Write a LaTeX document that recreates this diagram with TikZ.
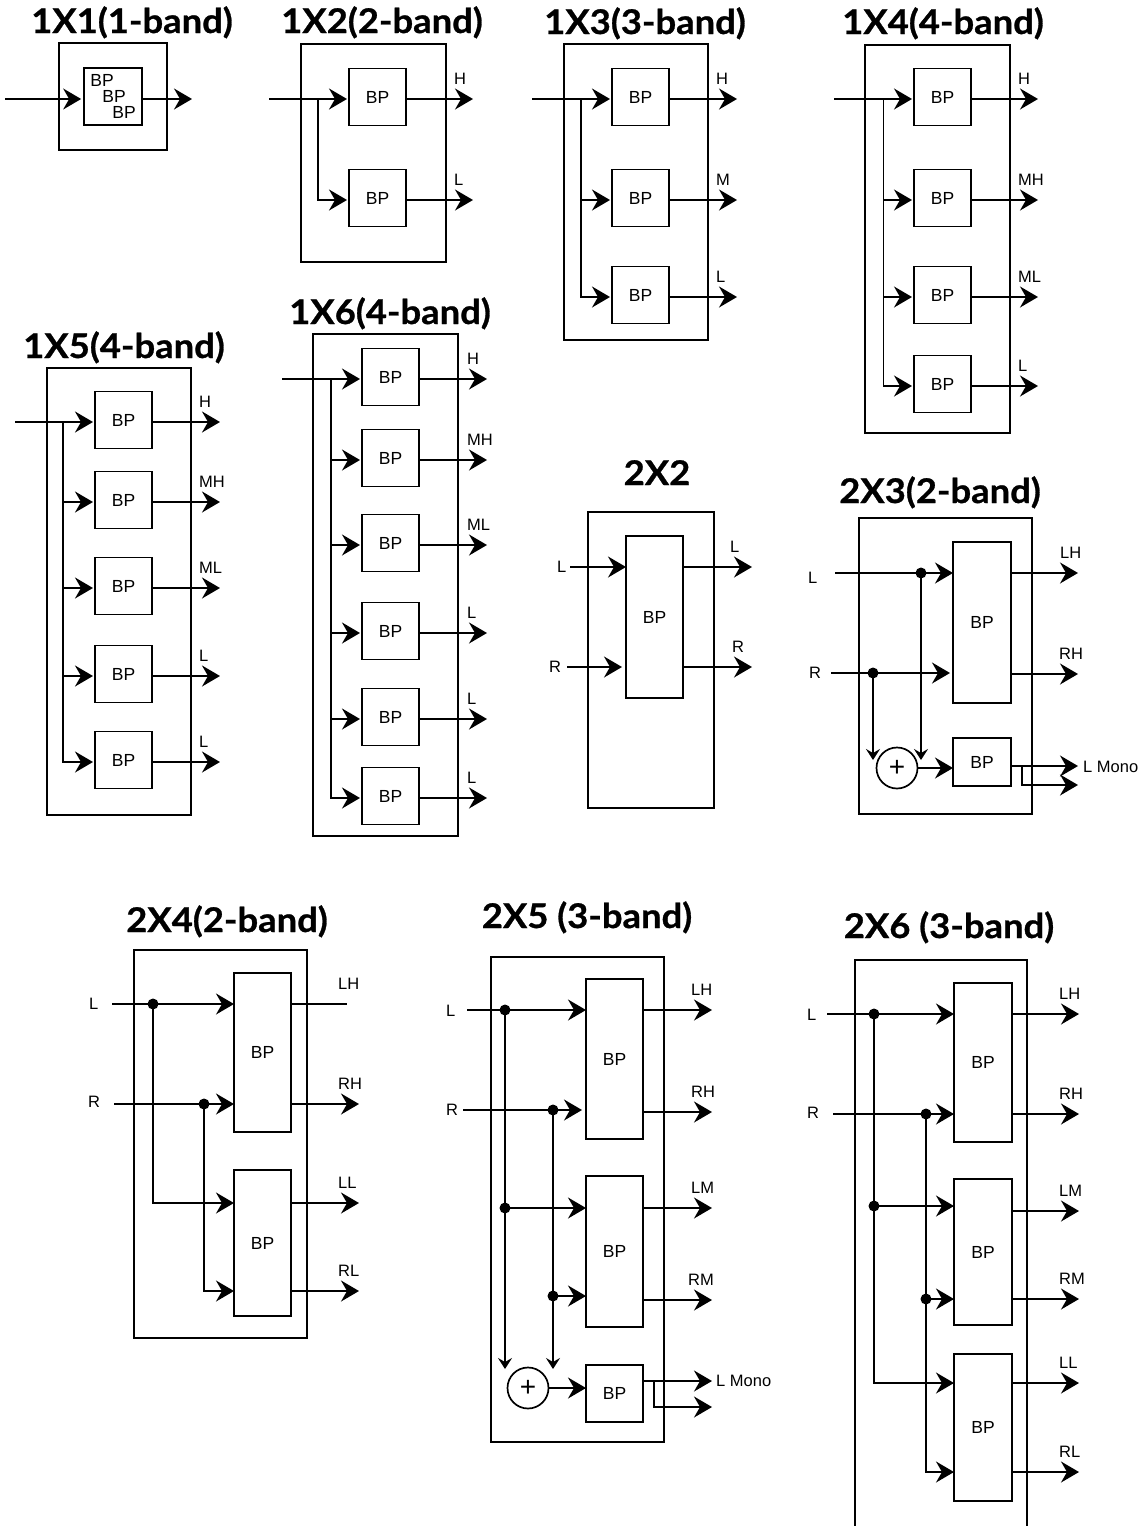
\documentclass[tikz,border=0pt]{standalone}
\usepackage{fontspec}
\setmainfont{Liberation Sans}
\newfontfamily\ttlfont{Lato}[FakeStretch=1.07,BoldFeatures={FakeBold=0.8}]
\usetikzlibrary{arrows.meta,calc}
\newcommand\lblfont{\fontsize{16.5}{19}\selectfont}
\newcommand\bpfont{\fontsize{17.5}{20}\selectfont}
\tikzset{
  ln/.style={line width=1.7pt},
  arr/.style={ln,-{Stealth[length=18pt,width=21pt,inset=6pt]}},
  sarr/.style={ln,-{Stealth[length=11pt,width=14pt,inset=4pt]}},
  outerbox/.style={draw,ln,inner sep=0pt,outer sep=0pt},
  bp/.style={draw,ln,inner sep=0pt,outer sep=0pt,font=\bpfont},
  lab/.style={inner sep=0pt,font=\lblfont},
  ttl/.style={inner sep=0pt,anchor=base,font=\ttlfont\bfseries\fontsize{34}{36}\selectfont},
  jdot/.style={circle,fill=black,inner sep=0pt,minimum size=11pt},
  plusnode/.style={circle,draw,ln,inner sep=0pt,minimum size=41pt,font=\fontsize{28}{28}\selectfont},
}
\newcommand\obox[5]{\node[outerbox, minimum width={(#4)-(#2)}, minimum height={(#5)-(#3)}] (#1) at ({((#2)+(#4))/2},{((#3)+(#5))/2}) {};}
\newcommand\bpbox[5]{\node[bp, minimum width={(#4)-(#2)}, minimum height={(#5)-(#3)}] (#1) at ({((#2)+(#4))/2},{((#3)+(#5))/2}) {BP};}
% #1 prefix #2 inx #3 branch x #4 bp center x #5 tip x #6 label x #7 first y #8 list y/label
\newcommand\onecol[8]{%
  \coordinate (#1in) at (#2,#7);
  \coordinate (#1br) at (#3,#7);
  \foreach \yv/\mylab [count=\ii] in {#8} {
    \node[bp,minimum size=57pt] (#1b\ii) at (#4,\yv-2) {BP};
    \coordinate (#1t\ii) at (#5,\yv);
    \coordinate (#1k\ii) at (#3,\yv);
    \draw[arr] (#1b\ii.east |- #1t\ii) -- (#1t\ii);
    \node[lab,anchor=base west] (#1l\ii) at (#6,\yv-15) {\mylab};
    \ifnum\ii>1 \draw[arr] (#1br) -- (#1k\ii) -- ([xshift=-2pt]#1b\ii.west |- #1k\ii);\fi
  }
  \draw[arr] (#1in) -- ([xshift=-2pt]#1b1.west |- #1in);
}
\begin{document}
\begin{tikzpicture}[x=1pt,y=-1pt]
\useasboundingbox (0,0) rectangle (1146,1526);

% ---------- titles
\node[ttl] (t11) at (132,33) {1X1(1-band)};
\node[ttl] (t12) at (382,33) {1X2(2-band)};
\node[ttl] (t13) at (645,34) {1X3(3-band)};
\node[ttl] (t14) at (943,34) {1X4(4-band)};
\node[ttl] (t15) at (124,358) {1X5(4-band)};
\node[ttl] (t16) at (390,324) {1X6(4-band)};
\node[ttl] (t22) at (657,485) {2X2};
\node[ttl] (t23) at (940,503) {2X3(2-band)};
\node[ttl] (t24) at (227,932) {2X4(2-band)};
\node[ttl] (t25) at (587,928) {2X5 (3-band)};
\node[ttl] (t26) at (949,938) {2X6 (3-band)};

% ---------- 1X1
\obox{o11}{59}{43}{167}{150}
\node[draw,ln,inner sep=0pt,minimum width=58pt,minimum height=57pt] (in11) at (113,96.5) {};
\node[lab,font=\bpfont] (bpa11) at (102,80) {BP};
\node[lab,font=\bpfont] (bpb11) at (114,96) {BP};
\node[lab,font=\bpfont] (bpc11) at (124,112) {BP};
\coordinate (i11) at (5,99);
\coordinate (t11e) at (192,99);
\draw[arr] (i11) -- ([xshift=-2pt]in11.west |- i11);
\draw[arr] (in11.east |- t11e) -- (t11e);

% ---------- 1X2 .. 1X6
\obox{o12}{301}{44}{446}{262}
\onecol{c12}{269}{318}{377.5}{473}{454}{99}{99/H,200/L}
\obox{o13}{564}{44}{708}{340}
\onecol{c13}{532}{581}{640.5}{737}{716}{99}{99/H,200/M,297/L}
\obox{o14}{865}{45}{1010}{433}
\onecol{c14}{834}{883.5}{942.5}{1038}{1018}{99}{99/H,200/MH,297/ML,386/L}
\obox{o15}{47}{368}{191}{815}
\onecol{c15}{15}{63}{123.5}{220}{199}{422}{422/H,502/MH,588/ML,676/L,762/L}
\obox{o16}{313}{334}{458}{836}
\onecol{c16}{282}{331}{390.5}{487}{467}{379}{379/H,460/MH,545/ML,633/L,719/L,798/L}

% ---------- 2X2
\obox{o22}{588}{512}{714}{808}
\bpbox{bp22}{626}{536}{683}{698}
\coordinate (iL22) at (570,567);
\coordinate (iR22) at (567,667);
\coordinate (eR22) at (622,667);
\coordinate (tL22) at (752,567);
\coordinate (tR22) at (752,667);
\node[lab,anchor=west] (lL22) at (557,567) {L};
\node[lab,anchor=west] (lR22) at (549,667) {R};
\draw[arr] (iL22) -- (bp22.west |- iL22);
\draw[arr] (iR22) -- (eR22);
\draw[arr] (bp22.east |- tL22) -- (tL22);
\draw[arr] (bp22.east |- tR22) -- (tR22);
\node[lab,anchor=base west] (oL22) at (730,552) {L};
\node[lab,anchor=base west] (oR22) at (732,652) {R};

% ---------- 2X3
\obox{o23}{859}{518}{1032}{814}
\bpbox{bpa23}{953}{542}{1011}{703}
\bpbox{bpb23}{953}{738}{1011}{786}
\node[plusnode] (s23) at (897,768) {+};
\coordinate (iL23) at (835,573);
\coordinate (iR23) at (831,673);
\coordinate (eR23) at (950,673);
\node[jdot] (dL23) at (921,573) {};
\node[jdot] (dR23) at (873,673) {};
\coordinate (vL23) at (921,760);
\coordinate (vR23) at (873,760);
\node[lab,anchor=west] (lL23) at (808,578) {L};
\node[lab,anchor=west] (lR23) at (809,673) {R};
\draw[arr] (iL23) -- (bpa23.west |- iL23);
\draw[arr] (iR23) -- (eR23);
\draw[sarr] (dL23.center) -- (vL23);
\draw[sarr] (dR23.center) -- (vR23);
\draw[arr] (s23.east) -- (bpb23.west |- s23);
\coordinate (tLH23) at (1078,573);
\coordinate (tRH23) at (1078,674);
\coordinate (tM23) at (1078,766);
\coordinate (tM23b) at (1078,785);
\coordinate (k23) at (1022,766);
\draw[arr] (bpa23.east |- tLH23) -- (tLH23);
\draw[arr] (bpa23.east |- tRH23) -- (tRH23);
\draw[arr] (bpb23.east |- tM23) -- (tM23);
\draw[arr] (k23) |- (tM23b);
\node[lab,anchor=base west] (oLH23) at (1060,558) {LH};
\node[lab,anchor=base west] (oRH23) at (1059,659) {RH};
\node[lab,anchor=west] (oM23) at (1083,767) {L Mono};

% ---------- 2X4
\obox{o24}{134}{950}{307}{1338}
\bpbox{bpa24}{234}{973}{291}{1132}
\bpbox{bpb24}{234}{1170}{291}{1316}
\coordinate (iL24) at (112,1004);
\coordinate (iR24) at (114,1104);
\node[jdot] (dL24) at (153,1004) {};
\node[jdot] (dR24) at (204,1104) {};
\coordinate (kL24) at (153,1203);
\coordinate (kR24) at (204,1291);
\node[lab,anchor=west] (lL24) at (89,1004) {L};
\node[lab,anchor=west] (lR24) at (88,1102) {R};
\draw[arr] (iL24) -- (bpa24.west |- iL24);
\draw[arr] (iR24) -- (bpa24.west |- iR24);
\draw[arr] (dL24.center) -- (kL24) -- (bpb24.west |- kL24);
\draw[arr] (dR24.center) -- (kR24) -- (bpb24.west |- kR24);
\coordinate (tLH24) at (347,1004);
\coordinate (tRH24) at (359,1104);
\coordinate (tLL24) at (359,1203);
\coordinate (tRL24) at (359,1291);
\draw[ln] (bpa24.east |- tLH24) -- (tLH24);
\draw[arr] (bpa24.east |- tRH24) -- (tRH24);
\draw[arr] (bpb24.east |- tLL24) -- (tLL24);
\draw[arr] (bpb24.east |- tRL24) -- (tRL24);
\node[lab,anchor=base west] (oLH24) at (338,989) {LH};
\node[lab,anchor=base west] (oRH24) at (338,1089) {RH};
\node[lab,anchor=base west] (oLL24) at (338,1188) {LL};
\node[lab,anchor=base west] (oRL24) at (338,1276) {RL};

% ---------- 2X5
\obox{o25}{491}{957}{664}{1442}
\bpbox{bpa25}{586}{979}{643}{1139}
\bpbox{bpb25}{586}{1176}{643}{1327}
\bpbox{bpc25}{586}{1365}{643}{1422}
\node[plusnode] (s25) at (528,1388) {+};
\coordinate (iL25) at (467,1010);
\coordinate (iR25) at (463,1110);
\coordinate (eR25) at (582,1110);
\node[jdot] (dL25) at (505,1010) {};
\node[jdot] (dR25) at (553,1110) {};
\node[jdot] (dL25b) at (505,1208) {};
\node[jdot] (dR25b) at (553,1296) {};
\coordinate (vL25) at (505,1369);
\coordinate (vR25) at (553,1369);
\node[lab,anchor=west] (lL25) at (446,1011) {L};
\node[lab,anchor=west] (lR25) at (446,1110) {R};
\draw[arr] (iL25) -- (bpa25.west |- iL25);
\draw[arr] (iR25) -- (eR25);
\draw[ln] (dL25.center) -- (dL25b.center);
\draw[ln] (dR25.center) -- (dR25b.center);
\draw[arr] (dL25b.center) -- (bpb25.west |- dL25b);
\draw[arr] (dR25b.center) -- (bpb25.west |- dR25b);
\draw[sarr] (dL25b.center) -- (vL25);
\draw[sarr] (dR25b.center) -- (vR25);
\draw[arr] (s25.east) -- (bpc25.west |- s25);
\coordinate (tLH25) at (712,1010);
\coordinate (tRH25) at (712,1112);
\coordinate (tLM25) at (712,1208);
\coordinate (tRM25) at (712,1300);
\coordinate (tM25) at (712,1381);
\coordinate (tM25b) at (712,1407);
\coordinate (k25) at (654,1381);
\draw[arr] (bpa25.east |- tLH25) -- (tLH25);
\draw[arr] (bpa25.east |- tRH25) -- (tRH25);
\draw[arr] (bpb25.east |- tLM25) -- (tLM25);
\draw[arr] (bpb25.east |- tRM25) -- (tRM25);
\draw[arr] (bpc25.east |- tM25) -- (tM25);
\draw[arr] (k25) |- (tM25b);
\node[lab,anchor=base west] (oLH25) at (691,995) {LH};
\node[lab,anchor=base west] (oRH25) at (691,1097) {RH};
\node[lab,anchor=base west] (oLM25) at (691,1193) {LM};
\node[lab,anchor=base west] (oRM25) at (688,1285) {RM};
\node[lab,anchor=west] (oM25) at (716,1381) {L Mono};

% ---------- 2X6
\coordinate (oa26) at (855,1527);
\coordinate (ob26) at (855,960);
\coordinate (oc26) at (1027,960);
\coordinate (od26) at (1027,1527);
\draw[ln] (oa26) -- (ob26) -- (oc26) -- (od26);
\bpbox{bpa26}{954}{983}{1012}{1142}
\bpbox{bpb26}{954}{1179}{1012}{1325}
\bpbox{bpc26}{954}{1354}{1012}{1501}
\coordinate (iL26) at (827,1014);
\coordinate (iR26) at (833,1114);
\node[jdot] (dL26) at (874,1014) {};
\node[jdot] (dR26) at (926,1114) {};
\node[jdot] (dL26b) at (874,1206) {};
\node[jdot] (dR26b) at (926,1299) {};
\coordinate (kL26) at (874,1383);
\coordinate (kR26) at (926,1472);
\node[lab,anchor=west] (lL26) at (807,1015) {L};
\node[lab,anchor=west] (lR26) at (807,1113) {R};
\draw[arr] (iL26) -- (bpa26.west |- iL26);
\draw[arr] (iR26) -- (bpa26.west |- iR26);
\draw[ln] (dL26.center) -- (dL26b.center);
\draw[ln] (dR26.center) -- (dR26b.center);
\draw[arr] (dL26b.center) -- (bpb26.west |- dL26b);
\draw[arr] (dR26b.center) -- (bpb26.west |- dR26b);
\draw[arr] (dL26b.center) -- (kL26) -- (bpc26.west |- kL26);
\draw[arr] (dR26b.center) -- (kR26) -- (bpc26.west |- kR26);
\coordinate (tLH26) at (1079,1014);
\coordinate (tRH26) at (1079,1114);
\coordinate (tLM26) at (1079,1211);
\coordinate (tRM26) at (1079,1299);
\coordinate (tLL26) at (1079,1383);
\coordinate (tRL26) at (1079,1472);
\draw[arr] (bpa26.east |- tLH26) -- (tLH26);
\draw[arr] (bpa26.east |- tRH26) -- (tRH26);
\draw[arr] (bpb26.east |- tLM26) -- (tLM26);
\draw[arr] (bpb26.east |- tRM26) -- (tRM26);
\draw[arr] (bpc26.east |- tLL26) -- (tLL26);
\draw[arr] (bpc26.east |- tRL26) -- (tRL26);
\node[lab,anchor=base west] (oLH26) at (1059,999) {LH};
\node[lab,anchor=base west] (oRH26) at (1059,1099) {RH};
\node[lab,anchor=base west] (oLM26) at (1059,1196) {LM};
\node[lab,anchor=base west] (oRM26) at (1059,1284) {RM};
\node[lab,anchor=base west] (oLL26) at (1059,1368) {LL};
\node[lab,anchor=base west] (oRL26) at (1059,1457) {RL};
\end{tikzpicture}
\end{document}
